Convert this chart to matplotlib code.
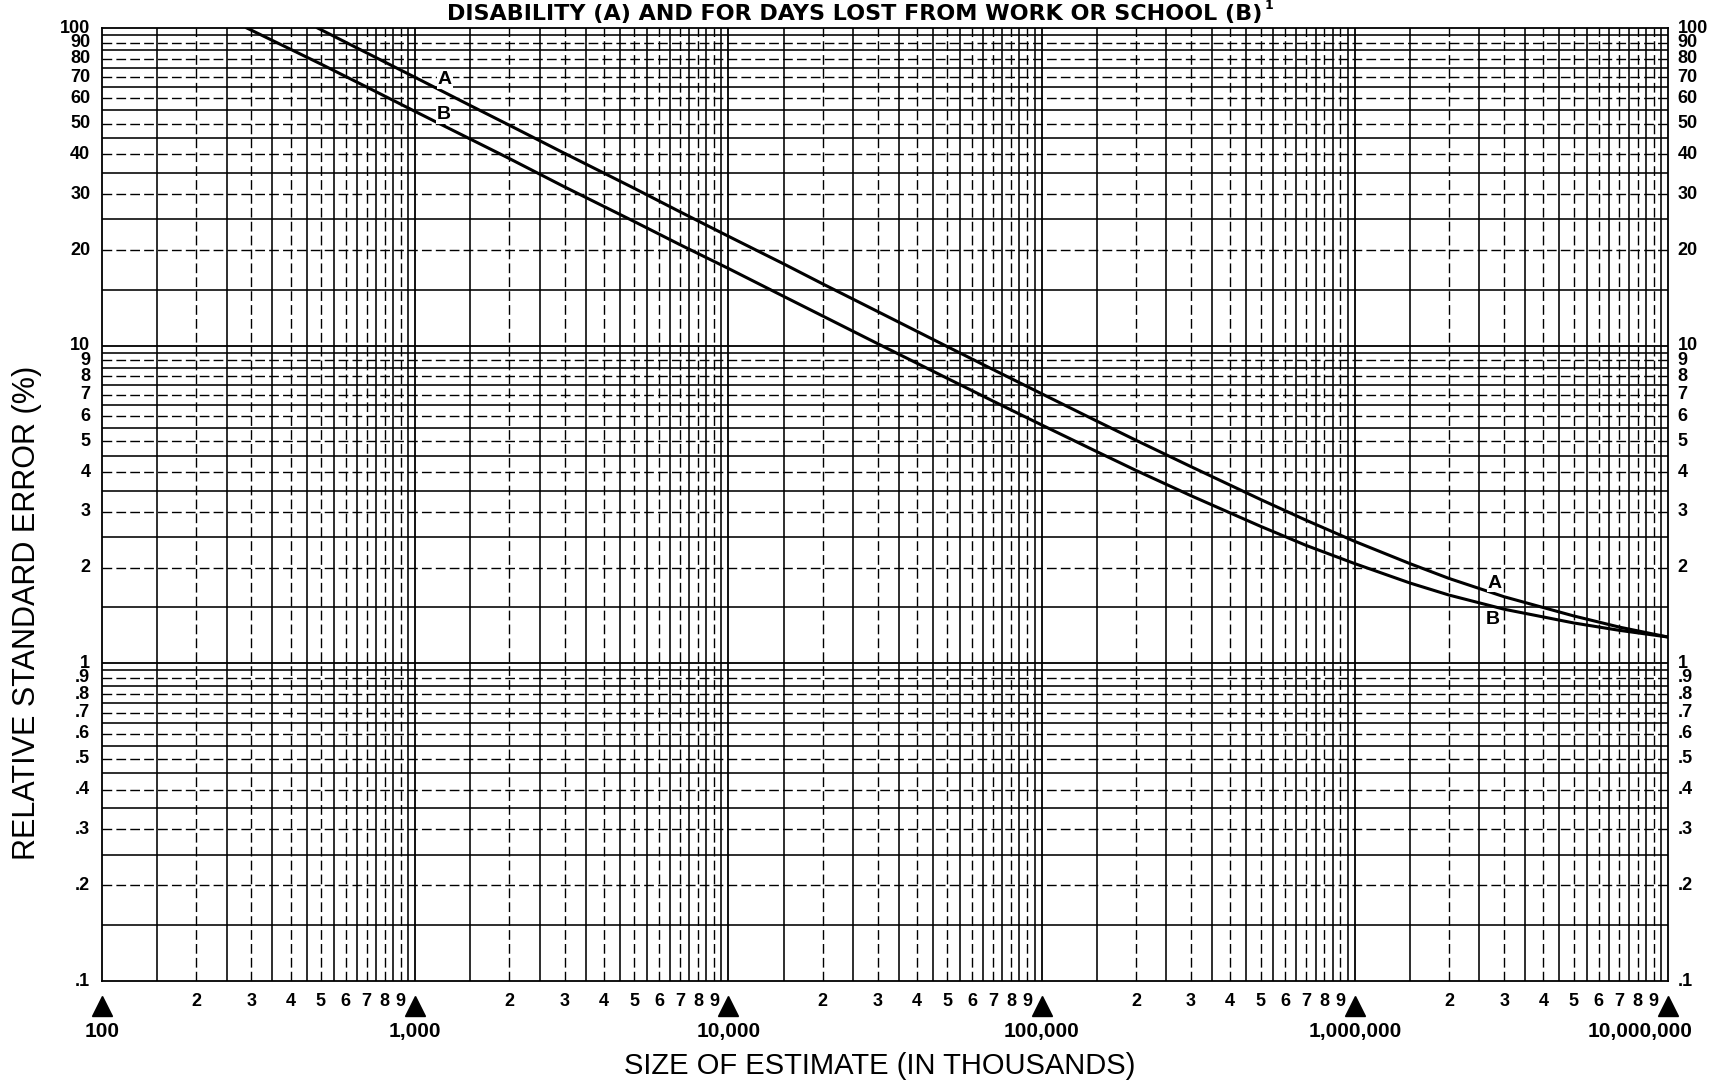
import numpy as np
import matplotlib
matplotlib.use("Agg")
import matplotlib.pyplot as plt
from matplotlib import transforms
from matplotlib.ticker import NullLocator

plt.rcParams['font.family'] = ['Liberation Sans', 'DejaVu Sans']

# ---------------- data ----------------
size_a = [488, 700, 1000, 1500, 2000, 3000, 5000, 7000, 10000, 15000, 20000, 30000,
          50000, 70000, 100000, 150000, 200000, 300000, 500000, 700000, 1000000,
          1500000, 2000000, 3000000, 5000000, 7000000, 10000000]
rse_a = [100, 83.5, 69.9, 57.0, 49.4, 40.3, 31.3, 26.4, 22.1, 18.1, 15.65, 12.8,
         9.93, 8.41, 7.06, 5.79, 5.04, 4.16, 3.28, 2.82, 2.42,
         2.06, 1.85, 1.62, 1.41, 1.30, 1.21]

size_b = [290, 500, 700, 1000, 1500, 2000, 3000, 5000, 7000, 10000, 15000, 20000, 30000,
          50000, 70000, 100000, 150000, 200000, 300000, 500000, 700000, 1000000,
          1500000, 2000000, 3000000, 5000000, 7000000, 10000000]
rse_b = [100, 77.0, 65.2, 54.6, 44.7, 38.8, 31.6, 24.6, 20.8, 17.5, 14.3, 12.4, 10.14,
         7.89, 6.69, 5.63, 4.64, 4.05, 3.37, 2.70, 2.35, 2.06,
         1.79, 1.64, 1.48, 1.34, 1.27, 1.21]

x_decades = [100, 1000, 10000, 100000, 1000000, 10000000]
x_decade_labels = ['100', '1,000', '10,000', '100,000', '1,000,000', '10,000,000']
x_digits = [2, 3, 4, 5, 6, 7, 8, 9]

y_tick_values = [0.1, 0.2, 0.3, 0.4, 0.5, 0.6, 0.7, 0.8, 0.9,
                 1, 2, 3, 4, 5, 6, 7, 8, 9,
                 10, 20, 30, 40, 50, 60, 70, 80, 90, 100]
y_tick_labels = ['.1', '.2', '.3', '.4', '.5', '.6', '.7', '.8', '.9',
                 '1', '2', '3', '4', '5', '6', '7', '8', '9',
                 '10', '20', '30', '40', '50', '60', '70', '80', '90', '100']

curve_names = ['A', 'B']
label_pts_a = [(1245, 68.8), (2.8e6, 1.79)]
label_pts_b = [(1230, 53.4), (2.76e6, 1.374)]

title = "DISABILITY (A) AND FOR DAYS LOST FROM WORK OR SCHOOL (B)"
title_note = "1"
xlabel = "SIZE OF ESTIMATE (IN THOUSANDS)"
ylabel = "RELATIVE STANDARD ERROR (%)"

# ---------------- figure ----------------
W, H = 1716, 1082
fig = plt.figure(figsize=(W / 100, H / 100), dpi=100)
left_px, right_px, top_px, bot_px = 102, 1668, 28, 981
ax = fig.add_axes([left_px / W, 1 - bot_px / H, (right_px - left_px) / W, (bot_px - top_px) / H])
ax.set_xscale('log')
ax.set_yscale('log')
ax.set_xlim(100, 1e7)
ax.set_ylim(0.1, 100)
ax.set_xticks([])
ax.set_yticks([])
ax.xaxis.set_minor_locator(NullLocator())
ax.yaxis.set_minor_locator(NullLocator())
for s in ax.spines.values():
    s.set_linewidth(1.3)
    s.set_color('black')

# graph-paper grid
mant = np.arange(1.0, 10.0, 0.5)
for k in range(2, 7):
    for m in mant:
        v = m * 10 ** k
        if v <= 100 or v >= 1e7:
            continue
        if m == 1:
            ax.axvline(v, color='black', lw=1.3, zorder=1)
        elif m % 1:
            ax.axvline(v, color='black', lw=1.15, zorder=1)
        else:
            ax.axvline(v, color='black', lw=1.0, ls=(0, (7, 3)), zorder=1)
for k in range(-1, 2):
    for m in mant:
        v = m * 10 ** k
        if v <= 0.1 or v >= 100:
            continue
        if m == 1:
            ax.axhline(v, color='black', lw=1.3, zorder=1)
        elif m % 1:
            ax.axhline(v, color='black', lw=1.15, zorder=1)
        else:
            ax.axhline(v, color='black', lw=1.0, ls=(0, (7, 3)), zorder=1)

# curves
ax.plot(size_a, rse_a, color='black', lw=2.2, zorder=3, solid_joinstyle='round')
ax.plot(size_b, rse_b, color='black', lw=2.2, zorder=3, solid_joinstyle='round')
for (x, y) in label_pts_a:
    ax.text(x, y, curve_names[0], ha='center', va='center', fontsize=14,
            fontweight='bold', zorder=4,
            bbox=dict(facecolor='white', edgecolor='none', pad=0.5))
for (x, y) in label_pts_b:
    ax.text(x, y, curve_names[1], ha='center', va='center', fontsize=14,
            fontweight='bold', zorder=4,
            bbox=dict(facecolor='white', edgecolor='none', pad=0.5))

# y tick labels on both sides
ytr = transforms.blended_transform_factory(ax.transAxes, ax.transData)
for v, lab in zip(y_tick_values, y_tick_labels):
    ax.text(-0.0075, v, lab, transform=ytr, ha='right', va='center',
            fontsize=13, fontweight='bold', clip_on=False)
    ax.text(1.006, v, lab, transform=ytr, ha='left', va='center',
            fontsize=13, fontweight='bold', clip_on=False)

# x tick labels, triangles
xtr = transforms.blended_transform_factory(ax.transData, ax.transAxes)
ax.plot(x_decades, [-0.026] * len(x_decades), transform=xtr, ls='none',
        marker='^', ms=14, color='black', clip_on=False)
for d in x_decades[:-1]:
    for g in x_digits:
        ax.text(d * g, -0.022, str(g), transform=xtr, ha='center', va='center',
                fontsize=13, fontweight='bold', clip_on=False)
for i, (d, lab) in enumerate(zip(x_decades, x_decade_labels)):
    dx = -28 if i == len(x_decades) - 1 else 0
    t = transforms.offset_copy(xtr, fig=fig, x=dx, y=0, units='dots')
    ax.text(d, -0.0525, lab, transform=t, ha='center', va='center',
            fontsize=15, fontweight='bold', clip_on=False)

# axis titles
fig.text(879.5 / W, 1 - 1066 / H, xlabel, ha='center', va='center', fontsize=21)
fig.text(27 / W, 1 - 613 / H, ylabel, ha='center', va='center', fontsize=22,
         rotation=90)
ttl = fig.text(855 / W, 1 - 20 / H, title, ha='center', va='baseline', fontsize=16,
               fontweight='bold', family=['DejaVu Sans'])
fig.canvas.draw()
bb = ttl.get_window_extent()
fig.text((bb.x1 + 2) / W, 1 - 9 / H, title_note, ha='left', va='baseline',
         fontsize=9, fontweight='bold', family=['DejaVu Sans'])

fig.savefig('out.png', dpi=100, facecolor='white')
